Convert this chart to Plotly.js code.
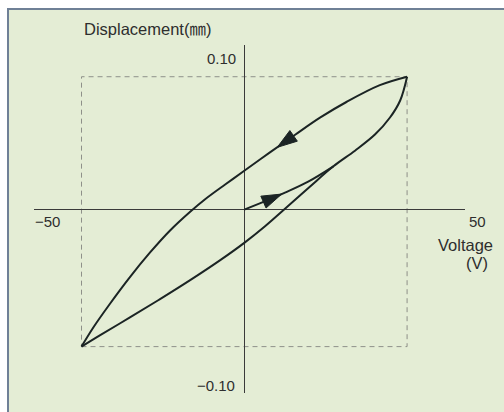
<!DOCTYPE html>
<html>
<head>
<meta charset="utf-8">
<script src="https://cdn.plot.ly/plotly-3.0.1.min.js"></script>
<style>
  html, body { margin: 0; padding: 0; background: #ffffff; }
  #chart { width: 504px; height: 412px; }
</style>
</head>
<body>
<div id="chart"></div>
<script>
// ---- Data ----
// Descending branch of the outer loop (from +40 V down to -40 V)
const descVoltage = [40, 33.3, 25.2, 18.6, 12.5, 6.3, 0, -4.7, -9.7, -13.3, -18.3, -23.2, -28.1, -33.0, -37.1, -40];
const descDisp    = [0.0834, 0.0781, 0.0677, 0.0577, 0.0470, 0.0359, 0.0244, 0.0158, 0.0064, -0.0013, -0.0132, -0.0270, -0.0423, -0.0590, -0.0739, -0.0859];

// Ascending branch of the outer loop (from -40 V up to +40 V)
const ascVoltage = [-40, -35.4, -28.1, -20.7, -13.3, -6.0, 0, 5.1, 10.0, 16.1, 21.9, 27.2, 32.1, 35.8, 38.3, 40];
const ascDisp    = [-0.0859, -0.0787, -0.0676, -0.0561, -0.0442, -0.0318, -0.0208, -0.0104, 0.0006, 0.0144, 0.0272, 0.0370, 0.0471, 0.0578, 0.0685, 0.0834];

// Initial loading curve from the origin
const initVoltage = [0, 5.9, 10.0, 15.7, 21.9];
const initDisp    = [0, 0.0061, 0.0107, 0.0176, 0.0272];

// Direction arrows: [point behind, arrow tip]
const arrowDescVoltage = [12.5, 8.1];
const arrowDescDisp    = [0.0470, 0.0391];
const arrowInitVoltage = [5.9, 9.2];
const arrowInitDisp    = [0.0061, 0.0098];

// Drive limits (dashed box)
const voltageLimit = 40;
const dispTop = 0.0834;
const dispBottom = -0.0859;

// Tick labels
const xTickLabels = ['\u221250', '50'];
const yTickLabels = ['0.10', '\u22120.10'];
const yTitle = 'Displacement(\u339c)';
const xTitle = ['Voltage', '(V)'];

// ---- Styling ----
const FONT = '"Liberation Sans", Arial, "Noto Sans CJK JP", sans-serif';
const curveColor = '#1b2424';
const curveStyle = { color: curveColor, width: 2, shape: 'spline', smoothing: 1 };
const arrowMarker = { symbol: 'arrow', size: [0, 21], angleref: 'previous', color: curveColor,
                      opacity: 1, line: { width: 1, color: curveColor } };

const traces = [
  { x: descVoltage, y: descDisp, mode: 'lines', line: curveStyle, hoverinfo: 'skip' },
  { x: ascVoltage, y: ascDisp, mode: 'lines', line: curveStyle, hoverinfo: 'skip' },
  { x: initVoltage, y: initDisp, mode: 'lines', line: curveStyle, hoverinfo: 'skip' },
  { x: arrowDescVoltage, y: arrowDescDisp, mode: 'markers', hoverinfo: 'skip', marker: arrowMarker },
  { x: arrowInitVoltage, y: arrowInitDisp, mode: 'markers', hoverinfo: 'skip', marker: arrowMarker }
];

const txt = { family: FONT, size: 15, color: '#2e2e2e' };

const layout = {
  width: 504, height: 412,
  margin: { l: 34, r: 39, t: 45, b: 19, pad: 0 },
  paper_bgcolor: '#ffffff',
  plot_bgcolor: 'rgba(0,0,0,0)',
  showlegend: false,
  xaxis: {
    range: [-51.67, 54.23], showgrid: false, showticklabels: false, ticks: '',
    showline: false, zeroline: true, zerolinecolor: '#3a3a3a', zerolinewidth: 1.3, fixedrange: true
  },
  yaxis: {
    range: [-0.115, 0.1033], showgrid: false, showticklabels: false, ticks: '',
    showline: false, zeroline: true, zerolinecolor: '#3a3a3a', zerolinewidth: 1.3, fixedrange: true
  },
  shapes: [
    { type: 'rect', xref: 'paper', yref: 'paper', x0: -0.0603, x1: 1.3, y0: -0.2, y1: 1.1034,
      fillcolor: '#e4edd5', line: { color: '#6f8096', width: 2 }, layer: 'below' },
    { type: 'rect', xref: 'x', yref: 'y', x0: -voltageLimit, x1: voltageLimit, y0: dispBottom, y1: dispTop,
      line: { color: '#8e9089', width: 1, dash: '5px,4px' }, fillcolor: 'rgba(0,0,0,0)', layer: 'below' }
  ],
  annotations: [
    { text: yTitle, xref: 'paper', yref: 'paper', x: 0.1107, y: 1.046, xanchor: 'left', yanchor: 'middle',
      showarrow: false, font: Object.assign({}, txt, { size: 16.5 }) },
    { text: yTickLabels[0], xref: 'paper', yref: 'paper', x: 0.4726, y: 0.9618, xanchor: 'right', yanchor: 'middle',
      showarrow: false, font: txt },
    { text: yTickLabels[1], xref: 'paper', yref: 'paper', x: 0.4703, y: 0.0216, xanchor: 'right', yanchor: 'middle',
      showarrow: false, font: txt },
    { text: xTickLabels[0], xref: 'paper', yref: 'paper', x: -0.0016, y: 0.4922, xanchor: 'left', yanchor: 'middle',
      showarrow: false, font: txt },
    { text: xTickLabels[1], xref: 'paper', yref: 'paper', x: 1.004, y: 0.4922, xanchor: 'left', yanchor: 'middle',
      showarrow: false, font: txt },
    { text: xTitle[0], xref: 'paper', yref: 'paper', x: 1.0696, y: 0.4253, xanchor: 'right', yanchor: 'middle',
      showarrow: false, font: Object.assign({}, txt, { size: 16.5 }) },
    { text: xTitle[1], xref: 'paper', yref: 'paper', x: 1.058, y: 0.3727, xanchor: 'right', yanchor: 'middle',
      showarrow: false, font: Object.assign({}, txt, { size: 16.5 }) }
  ]
};

Plotly.newPlot('chart', traces, layout, { displayModeBar: false, staticPlot: true });
</script>
</body>
</html>
